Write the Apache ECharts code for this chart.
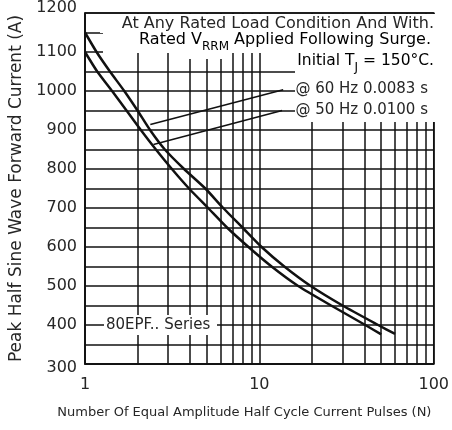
<!DOCTYPE html>
<html><head><meta charset="utf-8">
<script src="https://cdn.jsdelivr.net/npm/echarts@6/dist/echarts.min.js"></script>
<style>html,body{margin:0;padding:0;background:#fff}#c{width:452px;height:430px}</style>
</head><body><div id="c"></div>
<script>
// ---- data ----
const curve60Hz = [[1,1150],[1.165,1100],[1.39,1050],[1.68,1000],[2,950],[2.36,900],[2.87,850],[3.7,800],[4.9,750],[6.2,700],[8.0,650],[10.3,600],[13.9,550],[19.7,500],[30,450],[48,400],[60,377]];
const curve50Hz = [[1,1100],[1.175,1050],[1.43,1000],[1.73,950],[2.09,900],[2.55,850],[3.15,800],[3.95,750],[5.08,700],[6.52,650],[8.66,600],[11.75,550],[16.7,500],[25.8,450],[40.5,400],[50,376]];
const leader60 = [[2.37,914],[13.7,1003]];
const leader50 = [[2.47,863],[13.5,950]];
const xMinorGrid = [2,3,4,5,6,7,8,9,20,30,40,50,60,70,80,90];
const yMin = 300, yMax = 1200, yGridStep = 50, yLabelStep = 100;
const xMin = 1, xMax = 100;

const FONT = 'DejaVu Sans';
const TXT = '#262626';
const chart = echarts.init(document.getElementById('c'), null, {renderer:'canvas'});
const white = (x,y,w,h)=>({type:'rect', z:40, silent:true, shape:{x,y,width:w,height:h}, style:{fill:'#fff'}});
const txt = (o)=>Object.assign({type:'text', z:50, silent:true}, o);

chart.setOption({
  animation:false,
  grid:{left:85,right:15,top:12,bottom:66,show:true,borderColor:'#111',borderWidth:1.5},
  xAxis:{type:'log',logBase:10,min:xMin,max:xMax,
    axisLine:{show:true,lineStyle:{color:'#111',width:1.5}},
    axisTick:{show:false},
    splitLine:{show:true,lineStyle:{color:'#111',width:1.5}},
    axisLabel:{fontFamily:FONT,fontSize:16,color:TXT,margin:13},
    name:'Number Of Equal Amplitude Half Cycle Current Pulses (N)',
    nameLocation:'middle',nameGap:42,
    nameTextStyle:{fontFamily:FONT,fontSize:13,color:TXT,padding:[0,30,0,0]}
  },
  yAxis:{type:'value',min:yMin,max:yMax,interval:yGridStep,
    axisLine:{show:true,lineStyle:{color:'#111',width:1.5}},
    axisTick:{show:false},
    splitLine:{show:true,lineStyle:{color:'#111',width:1.5}},
    axisLabel:{fontFamily:FONT,fontSize:16,color:TXT,margin:8,
      formatter:v=> v%yLabelStep!==0 ? '' : (v===yMax ? '{t|'+v+'}' : (v===yMin ? '{b|'+v+'}' : String(v))),
      rich:{t:{fontFamily:FONT,fontSize:16,color:TXT,padding:[0,0,10,0]},b:{fontFamily:FONT,fontSize:16,color:TXT,padding:[8,0,0,0]}}
    },
    name:'Peak Half Sine Wave Forward Current (A)',
    nameLocation:'middle',nameGap:60,
    nameTextStyle:{fontFamily:FONT,fontSize:17,color:TXT}
  },
  series:[
    {type:'line',data:[],z:1,silent:true,
     markLine:{silent:true,symbol:['none','none'],label:{show:false},animation:false,
       lineStyle:{color:'#111',width:1.5,type:'solid'},
       data:xMinorGrid.map(v=>({xAxis:v}))}},
    {name:'60 Hz',type:'line',data:curve60Hz,z:5,showSymbol:false,smooth:0.2,lineStyle:{color:'#111',width:2.5}},
    {name:'50 Hz',type:'line',data:curve50Hz,z:5,showSymbol:false,smooth:0.2,lineStyle:{color:'#111',width:2.5}},
    {type:'line',data:leader60,z:5,showSymbol:false,lineStyle:{color:'#111',width:1.5}},
    {type:'line',data:leader50,z:5,showSymbol:false,lineStyle:{color:'#111',width:1.5}}
  ],
  graphic:[
    white(100,14,339,19),
    white(103,33,336,20),
    white(189,52,33,7),
    white(295,52,144,70),
    white(104,315,113,20),
    txt({x:434,y:24,style:{text:'At Any Rated Load Condition And With.',font:'16px "'+FONT+'"',fill:TXT,align:'right',verticalAlign:'middle'}}),
    txt({x:431,y:43.5,style:{text:'{m|Rated V}{s|RRM}{m| Applied Following Surge.}',align:'right',verticalAlign:'middle',
      rich:{m:{fontFamily:FONT,fontSize:16,color:TXT,lineHeight:18,padding:[0,0,5,0],verticalAlign:'bottom'},
            s:{fontFamily:FONT,fontSize:12,color:TXT,lineHeight:14,verticalAlign:'bottom'}}}}),
    txt({x:434,y:65,style:{text:'{m|Initial T}{s|J}{m| = 150°C.}',align:'right',verticalAlign:'middle',
      rich:{m:{fontFamily:FONT,fontSize:15.5,color:TXT,lineHeight:18,padding:[0,0,5,0],verticalAlign:'bottom'},
            s:{fontFamily:FONT,fontSize:12,color:TXT,lineHeight:14,verticalAlign:'bottom'}}}}),
    txt({x:428,y:89.5,style:{text:'@ 60 Hz 0.0083 s',font:'15px "'+FONT+'"',fill:TXT,align:'right',verticalAlign:'middle'}}),
    txt({x:428,y:110,style:{text:'@ 50 Hz 0.0100 s',font:'15px "'+FONT+'"',fill:TXT,align:'right',verticalAlign:'middle'}}),
    txt({x:106,y:325,style:{text:'80EPF.. Series',font:'15px "'+FONT+'"',fill:TXT,align:'left',verticalAlign:'middle'}})
  ]
});
</script></body></html>
